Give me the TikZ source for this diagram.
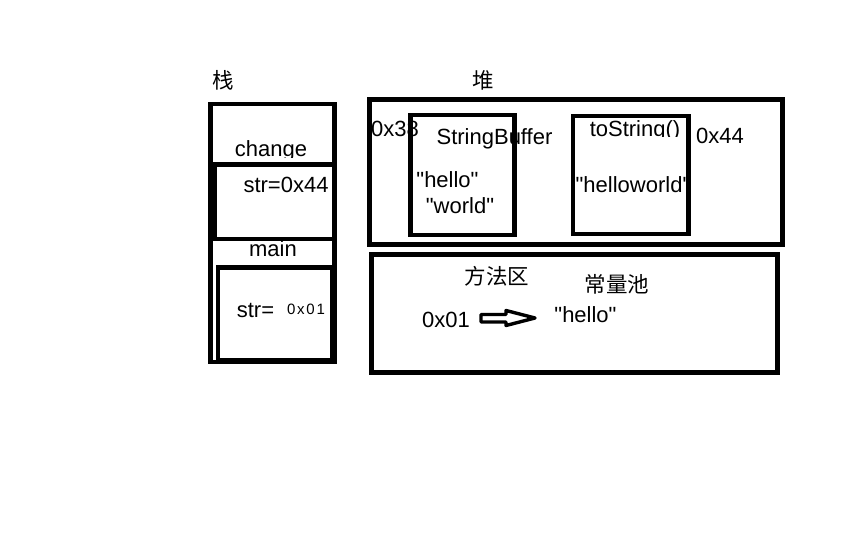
\documentclass[tikz,border=0pt]{standalone}
\usepackage{fontspec}
\setmainfont{Liberation Sans}[Ligatures=TeXOff]
\newfontfamily\cjk{Noto Sans CJK SC}
\newfontfamily\smallnum[LetterSpace=12.0]{Liberation Sans}
\newcommand\qq{\symbol{34}}
\begin{document}
\begin{tikzpicture}[x=1pt,y=-1pt,
  box/.style={draw=black, line width=4.6pt, inner sep=0pt, outer sep=0pt, minimum width=#1},
  txt/.style={inner sep=0pt, outer sep=0pt, anchor=base, font=\fontsize{22}{24}\selectfont},
  cjktxt/.style={inner sep=0pt, outer sep=0pt, anchor=center, font=\cjk\fontsize{21.5}{23}\selectfont},
  hollowarrow/.style={draw=black, line width=3.4pt, line join=round, fill=white}]
\useasboundingbox (0,0) rectangle (868,548);
\fill[white] (0,0) rectangle (868,548);

% titles
\node[cjktxt] (zhan) at (223,80) {栈};
\node[cjktxt] (dui) at (483,80) {堆};

% stack texts
\begin{scope}
  \clip (220,130) rectangle (330,157.5);
  \node[txt] (change) at (271,157) {change};
\end{scope}
\node[txt] (str1) at (286,193) {str=0x44};
\node[txt] (main) at (273,257) {main};
\node[txt] (str2) at (255.5,317) {str=};
\node[txt, font=\smallnum\fontsize{15}{17}\selectfont] (v01a) at (306,315) {0x01};

% heap texts
\node[txt] (a38) at (395,137) {0x38};
\node[txt] (sb) at (494.5,145) {StringBuffer};
\begin{scope}
  \clip (580,110) rectangle (690,136.5);
  \node[txt] (ts) at (635,137) {toString()};
\end{scope}
\node[txt] (a44) at (720,144) {0x44};
\node[txt] (hello1) at (447.5,188) {\qq hello\qq};
\node[txt] (world) at (460,214) {\qq world\qq};
\node[txt] (hw) at (633,193) {\qq helloworld\qq};

% method area texts
\node[cjktxt] (ffq) at (497,276) {方法区};
\node[cjktxt] (clc) at (617,284) {常量池};
\node[txt] (v01b) at (446,327) {0x01};
\node[txt] (hello2) at (585.5,323) {\qq hello\qq};

% stack boxes
\node[box=124pt, minimum height=258pt] (stack) at (272.5,233) {};
\node[box=120pt, minimum height=74.5pt] (frame1) at (275,201.75) {};
\node[box=114pt, minimum height=93.5pt] (frame2) at (275,314) {};

% heap boxes
\node[box=413pt, minimum height=145pt] (heap) at (576,172) {};
\node[box=104pt, minimum height=120pt] (sbbox) at (462.5,175) {};
\node[box=115.5pt, minimum height=118pt] (tsbox) at (630.75,175) {};

% method area box
\node[box=406pt, minimum height=118pt] (method) at (574.5,313.5) {};

% hollow arrow
\draw[hollowarrow] (481,314.5) -- (506,314.5) -- (506,310.5) -- (535,318)
  -- (506,325.5) -- (506,322) -- (481,322) -- cycle;
\end{tikzpicture}
\end{document}
